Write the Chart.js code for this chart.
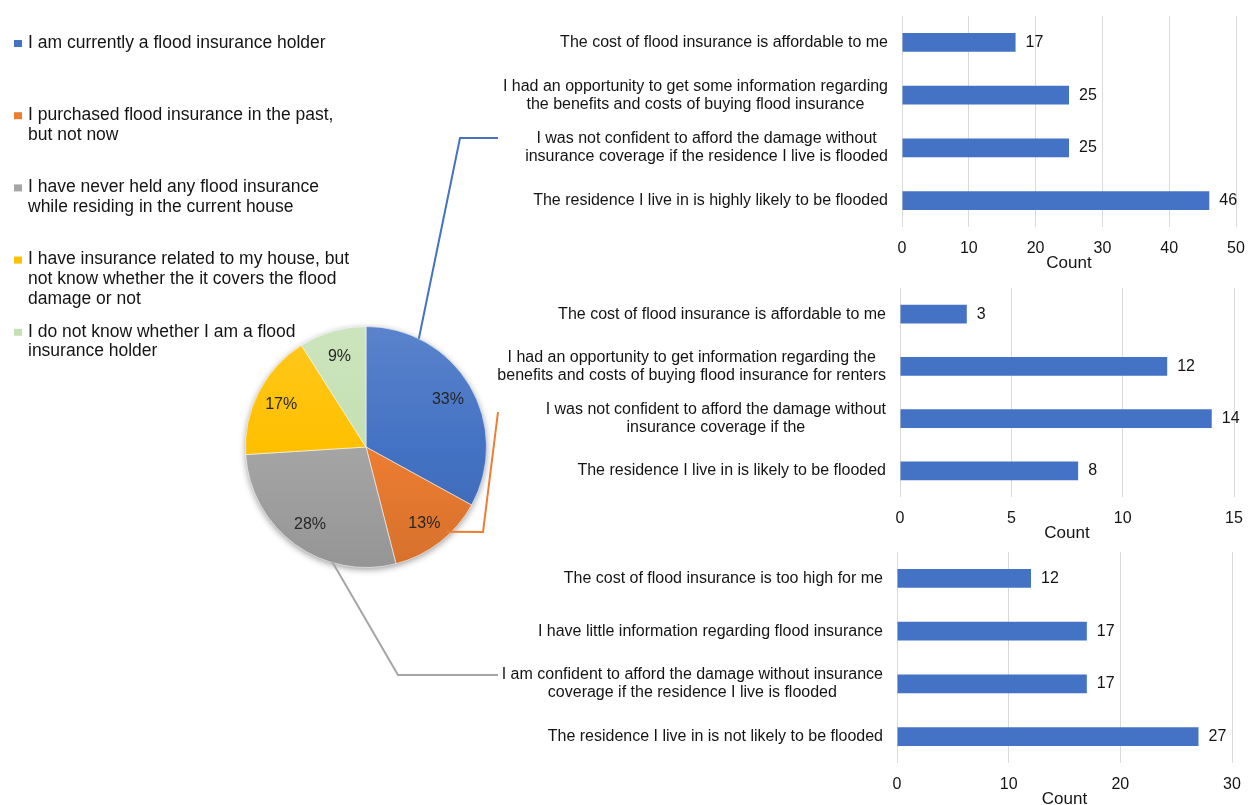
<!DOCTYPE html>
<html>
<head>
<meta charset="utf-8">
<title>Flood insurance status and reasons</title>
<script src="https://cdn.jsdelivr.net/npm/chart.js@4/dist/chart.umd.min.js"></script>
<style>
  html, body { margin: 0; padding: 0; background: #fff; overflow: hidden; }
  #wrap { position: relative; width: 1253px; height: 805px; overflow: hidden; }
  .box { position: absolute; }
</style>
</head>
<body>
<div id="wrap">
  <div class="box" style="left:0;top:0;width:500px;height:805px"><canvas id="pie"></canvas></div>
  <div class="box" style="left:470px;top:0;width:783px;height:274px"><canvas id="bar1"></canvas></div>
  <div class="box" style="left:470px;top:272px;width:783px;height:272px"><canvas id="bar2"></canvas></div>
  <div class="box" style="left:470px;top:536px;width:783px;height:274px"><canvas id="bar3"></canvas></div>
</div>
<script>
// ---- Insurance status (pie) ----
const statusLabels = [
  ['I am currently a flood insurance holder'],
  ['I purchased flood insurance in the past,', 'but not now'],
  ['I have never held any flood insurance', 'while residing in the current house'],
  ['I have insurance related to my house, but', 'not know whether the it covers the flood', 'damage or not'],
  ['I do not know whether I am a flood', 'insurance holder']
];
const statusShares = [33, 13, 28, 17, 9];
const statusColors = ['#4472C4', '#ED7D31', '#A5A5A5', '#FFC000', '#C5E0B4'];

// ---- Reasons given by current holders ----
const holderReasons = [
  'The cost of flood insurance is affordable to me',
  ['I had an opportunity to get some information regarding', 'the benefits and costs of buying flood insurance'],
  ['I was not confident to afford the damage without', 'insurance coverage if the residence I live is flooded'],
  'The residence I live in is highly likely to be flooded'
];
const holderCounts = [17, 25, 25, 46];
const holderTicks = { max: 50, step: 10 };

// ---- Reasons given by past purchasers ----
const pastReasons = [
  'The cost of flood insurance is affordable to me',
  ['I had an opportunity to get information regarding the', 'benefits and costs of buying flood insurance for renters'],
  ['I was not confident to afford the damage without', 'insurance coverage if the'],
  'The residence I live in is likely to be flooded'
];
const pastCounts = [3, 12, 14, 8];
const pastTicks = { max: 15, step: 5 };

// ---- Reasons given by those who never held insurance ----
const neverReasons = [
  'The cost of flood insurance is too high for me',
  'I have little information regarding flood insurance',
  ['I am confident to afford the damage without insurance', 'coverage if the residence I live is flooded'],
  'The residence I live in is not likely to be flooded'
];
const neverCounts = [12, 17, 17, 27];
const neverTicks = { max: 30, step: 10 };

const axisTitle = 'Count';

// ---- Styling ----
const FONT = '"Liberation Sans", Arial, sans-serif';
const TEXT = '#141414';
const GRID = '#d9d9d9';
const BAR_BLUE = '#4472C4';

function shade(hex, amt) {
  const n = parseInt(hex.slice(1), 16);
  const r = (n >> 16) & 255, g = (n >> 8) & 255, b = n & 255;
  const f = (c) => amt >= 0 ? Math.round(c + (255 - c) * amt) : Math.round(c * (1 + amt));
  return `rgb(${f(r)},${f(g)},${f(b)})`;
}

// vertical light-to-dark fill across the whole pie
function pieFill(ctx) {
  const base = statusColors[ctx.dataIndex];
  const area = ctx.chart.chartArea;
  if (!area) return base;
  const g = ctx.chart.ctx.createLinearGradient(0, area.top, 0, area.bottom);
  g.addColorStop(0, shade(base, 0.12));
  g.addColorStop(0.5, base);
  g.addColorStop(1, shade(base, -0.1));
  return g;
}

// soft drop shadow under the pie
const pieShadow = {
  id: 'pieShadow',
  beforeDatasetsDraw(chart) {
    const el = chart.getDatasetMeta(0).data[0];
    if (!el) return;
    const ctx = chart.ctx;
    ctx.save();
    ctx.shadowColor = 'rgba(0,0,0,0.45)';
    ctx.shadowBlur = 7;
    ctx.shadowOffsetY = 2;
    ctx.fillStyle = '#bbbbbb';
    ctx.beginPath();
    ctx.arc(el.x, el.y, el.outerRadius - 0.5, 0, Math.PI * 2);
    ctx.fill();
    ctx.restore();
  }
};

// percentage labels inside the slices
const pieValueLabels = {
  id: 'pieValueLabels',
  afterDatasetsDraw(chart) {
    const ctx = chart.ctx;
    const values = chart.data.datasets[0].data;
    ctx.save();
    ctx.font = `16px ${FONT}`;
    ctx.fillStyle = '#262626';
    ctx.textAlign = 'center';
    ctx.textBaseline = 'middle';
    chart.getDatasetMeta(0).data.forEach((arc, i) => {
      const mid = (arc.startAngle + arc.endAngle) / 2;
      const r = arc.outerRadius * 0.79;
      ctx.fillText(values[i] + '%', arc.x + Math.cos(mid) * r, arc.y + Math.sin(mid) * r + 1);
    });
    ctx.restore();
  }
};

// wrapped legend at the top-left
const pieLegend = {
  id: 'pieLegend',
  afterDraw(chart) {
    const ctx = chart.ctx;
    ctx.save();
    ctx.font = `17.5px ${FONT}`;
    ctx.textBaseline = 'middle';
    ctx.textAlign = 'left';
    statusLabels.forEach((lines, i) => {
      const y0 = 43 + i * 72.2;
      ctx.fillStyle = statusColors[i];
      ctx.fillRect(14, y0 - 3, 8, 7);
      ctx.fillStyle = TEXT;
      lines.forEach((line, j) => ctx.fillText(line, 28, y0 + j * 19.7));
    });
    ctx.restore();
  }
};

// leader lines from slices to their bar panels
const leaders = [
  { slice: 0, angle: 26, rf: 1.0, path: [[460, 138], [498, 138]] },
  { slice: 1, angle: 136.4, rf: 0.97, path: [[483, 532], [498, 412]] },
  { slice: 2, angle: 196.6, rf: 0.99, path: [[398, 675], [498, 675]] }
];
const pieLeaders = {
  id: 'pieLeaders',
  afterDraw(chart) {
    const el = chart.getDatasetMeta(0).data[0];
    if (!el) return;
    const ctx = chart.ctx;
    ctx.save();
    ctx.lineWidth = 2;
    ctx.lineJoin = 'miter';
    leaders.forEach(l => {
      const a = l.angle * Math.PI / 180;
      const r = el.outerRadius * l.rf;
      ctx.strokeStyle = statusColors[l.slice];
      ctx.beginPath();
      ctx.moveTo(el.x + Math.sin(a) * r, el.y - Math.cos(a) * r);
      l.path.forEach(p => ctx.lineTo(p[0], p[1]));
      ctx.stroke();
    });
    ctx.restore();
  }
};

new Chart(document.getElementById('pie'), {
  type: 'pie',
  data: {
    labels: statusLabels.map(l => l.join(' ')),
    datasets: [{
      data: statusShares,
      backgroundColor: pieFill,
      borderColor: 'rgba(255,255,255,0.55)',
      borderWidth: 1,
      hoverOffset: 0,
      offset: 0
    }]
  },
  options: {
    responsive: true,
    maintainAspectRatio: false,
    animation: false,
    events: [],
    layout: { padding: { left: 245, right: 13, top: 326, bottom: 237 } },
    plugins: { legend: { display: false }, tooltip: { enabled: false } }
  },
  plugins: [pieShadow, pieValueLabels, pieLegend, pieLeaders]
});

// ---- Horizontal bar panels ----
const categoryLabels = {
  id: 'categoryLabels',
  afterDraw(chart) {
    const { ctx, chartArea } = chart;
    const yScale = chart.scales.y;
    ctx.save();
    ctx.font = `16px ${FONT}`;
    ctx.fillStyle = TEXT;
    ctx.textAlign = 'center';
    ctx.textBaseline = 'middle';
    chart.data.labels.forEach((lab, i) => {
      const lines = Array.isArray(lab) ? lab : [lab];
      const w = Math.max(...lines.map(t => ctx.measureText(t).width));
      const cx = chartArea.left - 14 - w / 2;
      const cy = yScale.getPixelForTick(i);
      lines.forEach((t, j) => ctx.fillText(t, cx, cy + (j - (lines.length - 1) / 2) * 18));
    });
    ctx.restore();
  }
};

const barValues = {
  id: 'barValues',
  afterDatasetsDraw(chart) {
    const ctx = chart.ctx;
    const values = chart.data.datasets[0].data;
    ctx.save();
    ctx.font = `16px ${FONT}`;
    ctx.fillStyle = TEXT;
    ctx.textAlign = 'left';
    ctx.textBaseline = 'middle';
    chart.getDatasetMeta(0).data.forEach((bar, i) => {
      ctx.fillText(String(values[i]), bar.x + 10, bar.y);
    });
    ctx.restore();
  }
};

function makeBarPanel(id, labels, values, ticks, axisWidth, padRight) {
  return new Chart(document.getElementById(id), {
    type: 'bar',
    data: {
      labels: labels,
      datasets: [{
        data: values,
        backgroundColor: BAR_BLUE,
        borderWidth: 0,
        barPercentage: 0.355,
        categoryPercentage: 1
      }]
    },
    options: {
      indexAxis: 'y',
      responsive: true,
      maintainAspectRatio: false,
      animation: false,
      events: [],
      layout: { padding: { top: 16, right: padRight, bottom: 0, left: 0 } },
      plugins: { legend: { display: false }, tooltip: { enabled: false } },
      scales: {
        x: {
          min: 0,
          max: ticks.max,
          ticks: { stepSize: ticks.step, color: TEXT, font: { family: FONT, size: 16 }, padding: 12, maxRotation: 0 },
          grid: { color: GRID, lineWidth: 1, drawTicks: false },
          border: { display: false },
          title: { display: true, text: axisTitle, color: TEXT, font: { family: FONT, size: 17 }, padding: 0 },
          afterFit: (s) => { s.height = 47; s.paddingLeft = 0; s.paddingRight = 0; }
        },
        y: {
          ticks: { display: false },
          grid: { display: false },
          border: { display: false },
          afterFit: (s) => { s.width = axisWidth; }
        }
      }
    },
    plugins: [categoryLabels, barValues]
  });
}

makeBarPanel('bar1', holderReasons, holderCounts, holderTicks, 432, 17);
makeBarPanel('bar2', pastReasons, pastCounts, pastTicks, 430, 19);
makeBarPanel('bar3', neverReasons, neverCounts, neverTicks, 427, 21);
</script>
</body>
</html>
